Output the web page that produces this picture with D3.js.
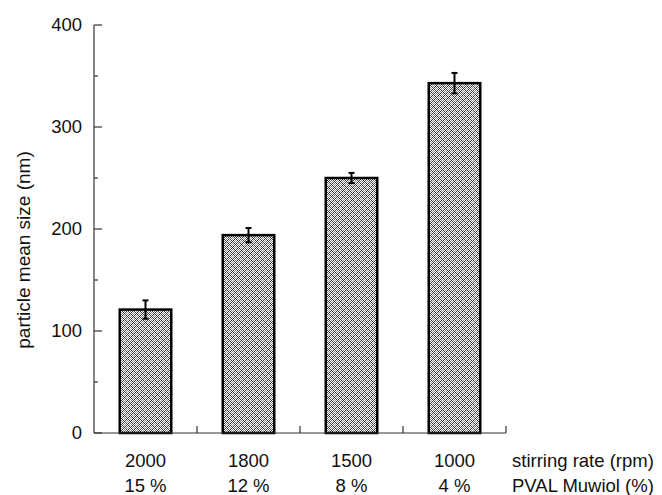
<!DOCTYPE html>
<html>
<head>
<meta charset="utf-8">
<script src="https://cdn.jsdelivr.net/npm/d3@7"></script>
<style>
  body { margin: 0; background: #fff; }
  text { font-family: "Liberation Sans", Arial, sans-serif; fill: #111; }
</style>
</head>
<body>
<svg id="chart" width="662" height="495"></svg>
<script>
const stirringRates = ["2000", "1800", "1500", "1000"],
    pvalLabels = ["15 %", "12 %", "8 %", "4 %"],
    meanSizes = [121, 194, 250, 343],
    sizeErrors = [9, 7, 5, 10],
    yTicks = [0, 100, 200, 300, 400],
    yMinorTicks = [50, 150, 250, 350];

const svg = d3.select("#chart"),
    margin = { left: 94, top: 25, right: 156, bottom: 62 },
    width = 662 - margin.left - margin.right,
    height = 495 - margin.top - margin.bottom,
    fontSize = 18.5;

// crosshatch fill like the printed figure
const pattern = svg.append("defs").append("pattern")
    .attr("id", "hatch")
    .attr("patternUnits", "userSpaceOnUse")
    .attr("width", 6)
    .attr("height", 6);
pattern.append("rect").attr("width", 6).attr("height", 6).attr("fill", "#fff");
for (let i = 0; i < 6; i++) {
    for (let j = 0; j < 6; j++) {
        if ((i + j) % 2 === 0) {
            pattern.append("rect")
                .attr("x", i).attr("y", j)
                .attr("width", 1).attr("height", 1)
                .attr("fill", (i === j || i + j === 6) ? "#333" : "#8a8a8a");
        }
    }
}

const g = svg.append("g").attr("transform", `translate(${margin.left},${margin.top})`);

const x = d3.scaleBand()
    .domain(stirringRates)
    .range([0, width])
    .paddingInner(0.5)
    .paddingOuter(0.25);

const y = d3.scaleLinear()
    .domain([0, 400])
    .range([height, 0]);

// bars
g.selectAll("rect.bar")
    .data(meanSizes)
    .join("rect")
    .attr("class", "bar")
    .attr("x", (d, i) => x(stirringRates[i]))
    .attr("y", d => y(d))
    .attr("width", x.bandwidth())
    .attr("height", d => y(0) - y(d))
    .attr("fill", "url(#hatch)")
    .attr("stroke", "#000")
    .attr("stroke-width", 2.5);

// error bars
const err = g.selectAll("g.err")
    .data(meanSizes)
    .join("g")
    .attr("class", "err")
    .attr("transform", (d, i) => `translate(${x(stirringRates[i]) + x.bandwidth() / 2},0)`);
err.append("line")
    .attr("y1", (d, i) => y(d + sizeErrors[i]))
    .attr("y2", (d, i) => y(d - sizeErrors[i]))
    .attr("stroke", "#000").attr("stroke-width", 2);
err.append("line")
    .attr("x1", -3).attr("x2", 3)
    .attr("y1", (d, i) => y(d + sizeErrors[i]))
    .attr("y2", (d, i) => y(d + sizeErrors[i]))
    .attr("stroke", "#000").attr("stroke-width", 2);
err.append("line")
    .attr("x1", -3).attr("x2", 3)
    .attr("y1", (d, i) => y(d - sizeErrors[i]))
    .attr("y2", (d, i) => y(d - sizeErrors[i]))
    .attr("stroke", "#000").attr("stroke-width", 2);

// y axis, ticks pointing inward
const yAxis = g.append("g");
yAxis.append("line")
    .attr("y1", y(400)).attr("y2", y(0))
    .attr("stroke", "#333").attr("stroke-width", 1.2);
yAxis.selectAll("line.major")
    .data(yTicks)
    .join("line")
    .attr("class", "major")
    .attr("x1", 0).attr("x2", 8)
    .attr("y1", d => y(d)).attr("y2", d => y(d))
    .attr("stroke", "#333").attr("stroke-width", 1.2);
yAxis.selectAll("line.minor")
    .data(yMinorTicks)
    .join("line")
    .attr("class", "minor")
    .attr("x1", 0).attr("x2", 4)
    .attr("y1", d => y(d)).attr("y2", d => y(d))
    .attr("stroke", "#333").attr("stroke-width", 1.2);
yAxis.selectAll("text")
    .data(yTicks)
    .join("text")
    .attr("x", -12)
    .attr("y", d => y(d))
    .attr("dy", "0.3em")
    .attr("text-anchor", "end")
    .attr("font-size", fontSize)
    .text(d => d);

// x axis with separators between categories
const xAxis = g.append("g").attr("transform", `translate(0,${height})`);
xAxis.append("line")
    .attr("x1", 0).attr("x2", width)
    .attr("stroke", "#333").attr("stroke-width", 1.2);
xAxis.selectAll("line.sep")
    .data(stirringRates.slice(1).concat(["end"]))
    .join("line")
    .attr("class", "sep")
    .attr("x1", (d, i) => x.step() * (i + 1))
    .attr("x2", (d, i) => x.step() * (i + 1))
    .attr("y1", 0).attr("y2", -7)
    .attr("stroke", "#333").attr("stroke-width", 1.2);
xAxis.selectAll("text.rate")
    .data(stirringRates)
    .join("text")
    .attr("class", "rate")
    .attr("x", d => x(d) + x.bandwidth() / 2)
    .attr("y", 34)
    .attr("text-anchor", "middle")
    .attr("font-size", fontSize)
    .text(d => d);
xAxis.selectAll("text.pval")
    .data(pvalLabels)
    .join("text")
    .attr("class", "pval")
    .attr("x", (d, i) => x(stirringRates[i]) + x.bandwidth() / 2)
    .attr("y", 59)
    .attr("text-anchor", "middle")
    .attr("font-size", fontSize)
    .text(d => d);
xAxis.append("text")
    .attr("x", width + 6)
    .attr("y", 34)
    .attr("font-size", fontSize)
    .text("stirring rate (rpm)");
xAxis.append("text")
    .attr("x", width + 6)
    .attr("y", 59)
    .attr("font-size", fontSize)
    .text("PVAL Muwiol (%)");

// y axis title
g.append("text")
    .attr("transform", `translate(-64,${height / 2 + 21}) rotate(-90)`)
    .attr("text-anchor", "middle")
    .attr("font-size", 19)
    .text("particle mean size (nm)");
</script>
</body>
</html>
